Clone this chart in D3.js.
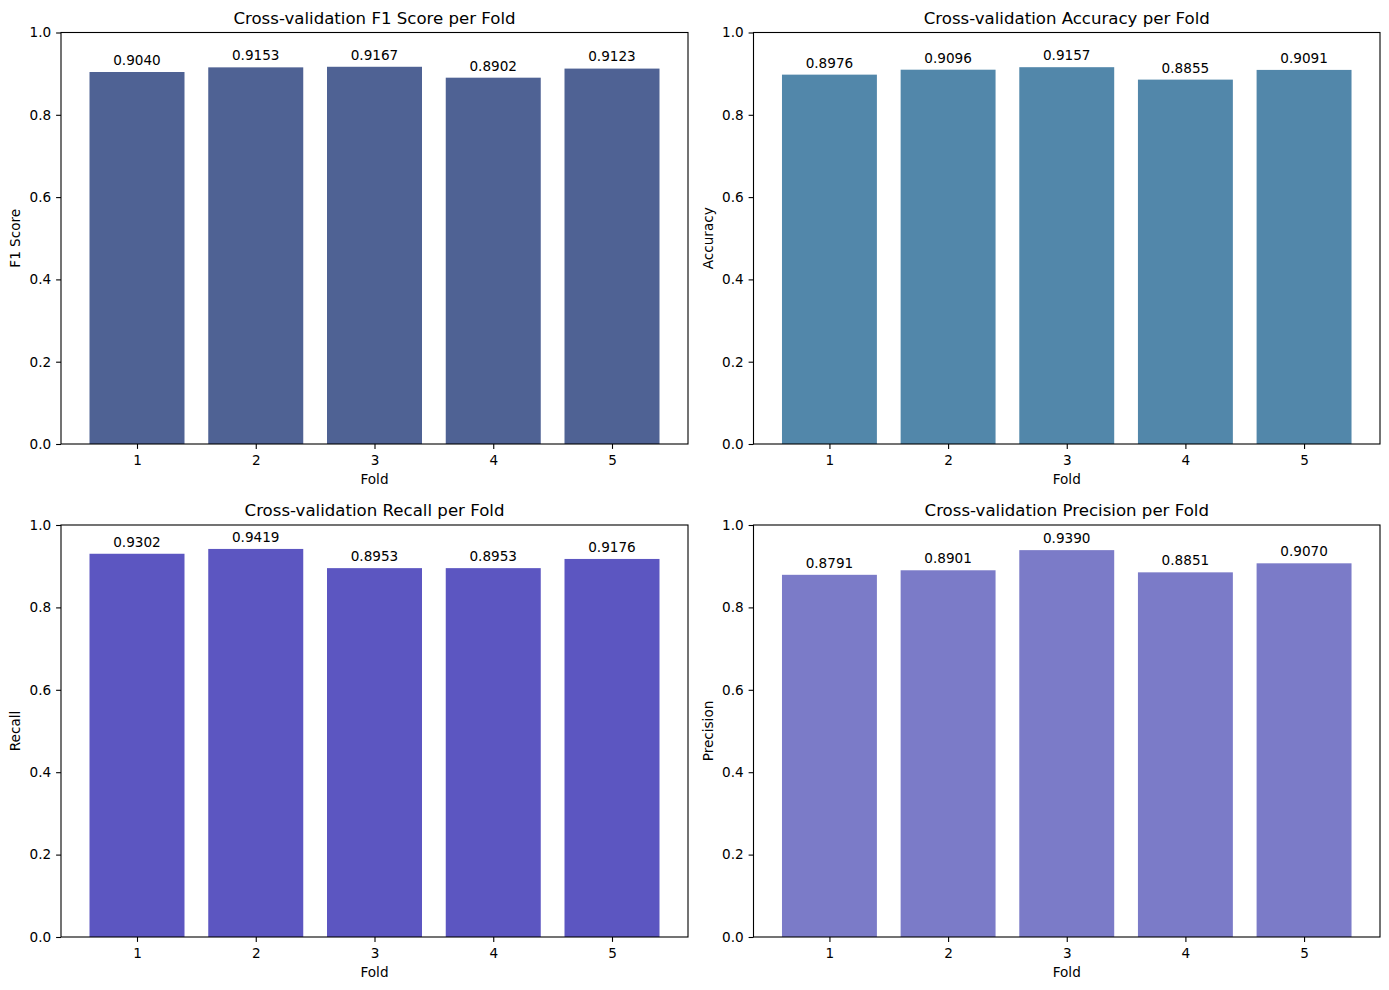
<!DOCTYPE html>
<html><head><meta charset="utf-8">
<script src="https://cdn.jsdelivr.net/npm/d3@7"></script>
<style>body{margin:0;background:#fff}svg{display:block;font-family:"DejaVu Sans",sans-serif}</style>
</head><body><svg id="c" width="1389" height="990"></svg>
<script>
const folds = [1, 2, 3, 4, 5];
const f1Scores = [0.9040, 0.9153, 0.9167, 0.8902, 0.9123];
const accuracies = [0.8976, 0.9096, 0.9157, 0.8855, 0.9091];
const recalls = [0.9302, 0.9419, 0.8953, 0.8953, 0.9176];
const precisions = [0.8791, 0.8901, 0.9390, 0.8851, 0.9070];
const yTicks = [0.0, 0.2, 0.4, 0.6, 0.8, 1.0];

const panels = [
  {title: "Cross-validation F1 Score per Fold", ylabel: "F1 Score", values: f1Scores, color: "#4f6294", x0: 61, x1: 688, y0: 32.5, y1: 444},
  {title: "Cross-validation Accuracy per Fold", ylabel: "Accuracy", values: accuracies, color: "#5287aa", x0: 753.5, x1: 1380, y0: 32.5, y1: 444},
  {title: "Cross-validation Recall per Fold", ylabel: "Recall", values: recalls, color: "#5c56c1", x0: 61, x1: 688, y0: 525, y1: 937},
  {title: "Cross-validation Precision per Fold", ylabel: "Precision", values: precisions, color: "#7b7bc8", x0: 753.5, x1: 1380, y0: 525, y1: 937}
];

const svg = d3.select("#c");
panels.forEach(p => {
  const x = d3.scaleLinear().domain([0.36, 5.64]).range([p.x0, p.x1]);
  const y = d3.scaleLinear().domain([0, 1]).range([p.y1, p.y0]);
  const g = svg.append("g");
  const data = folds.map((f, i) => ({f, v: p.values[i]}));
  g.selectAll("rect").data(data).join("rect")
    .attr("x", d => x(d.f - 0.4)).attr("width", d => x(d.f + 0.4) - x(d.f - 0.4))
    .attr("y", d => y(d.v)).attr("height", d => y(0) - y(d.v))
    .attr("fill", p.color);
  g.selectAll("text.val").data(data).join("text").attr("class", "val")
    .attr("x", d => x(d.f)).attr("y", d => y(d.v + 0.01) - 3)
    .attr("text-anchor", "middle").attr("font-size", "13.6px").attr("fill", "#000")
    .text(d => d.v.toFixed(4));
  const xa = g.append("g").attr("transform", `translate(0,${p.y1})`)
    .call(d3.axisBottom(x).tickValues(folds).tickFormat(d3.format("d")).tickSize(4.9).tickPadding(6.5));
  const ya = g.append("g").attr("transform", `translate(${p.x0},0)`)
    .call(d3.axisLeft(y).tickValues(yTicks).tickFormat(d3.format(".1f")).tickSize(4.9).tickPadding(4.9));
  [xa, ya].forEach(a => {
    a.select(".domain").remove();
    a.selectAll("text").attr("font-size", "13.6px").attr("fill", "#000").attr("font-family", "DejaVu Sans");
    a.selectAll("line").attr("stroke", "#000").attr("stroke-width", 1.1);
  });
  g.append("rect").attr("x", p.x0).attr("y", p.y0).attr("width", p.x1 - p.x0).attr("height", p.y1 - p.y0)
    .attr("fill", "none").attr("stroke", "#000").attr("stroke-width", 1.1);
  g.append("text").attr("x", (p.x0 + p.x1) / 2).attr("y", p.y0 - 9)
    .attr("text-anchor", "middle").attr("font-size", "16.6px").attr("fill", "#000").text(p.title);
  g.append("text").attr("x", (p.x0 + p.x1) / 2).attr("y", p.y1 + 40)
    .attr("text-anchor", "middle").attr("font-size", "13.6px").attr("fill", "#000").text("Fold");
  g.append("text").attr("transform", `translate(${p.x0 - 41},${(p.y0 + p.y1) / 2}) rotate(-90)`)
    .attr("text-anchor", "middle").attr("font-size", "13.6px").attr("fill", "#000").text(p.ylabel);
});
</script></body></html>
